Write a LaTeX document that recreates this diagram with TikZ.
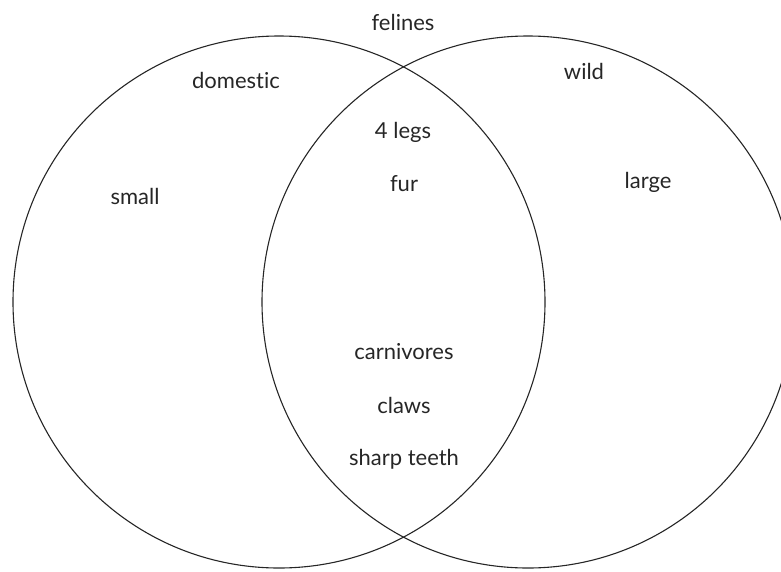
\documentclass[tikz,border=0pt]{standalone}
\usepackage{fontspec}
\setmainfont[Ligatures={NoCommon,NoRare}]{Lato}
\begin{document}
\begin{tikzpicture}[x=1pt,y=-1pt,
  set/.style={draw=black!85, line width=1.1pt},
  lbl/.style={font=\fontsize{22}{26}\selectfont, text=black!85, inner sep=0pt}]
\useasboundingbox (0,0) rectangle (781,571);
\begin{scope}
\clip (0,0) rectangle (781,571);
\draw[set] (279,302) circle[radius=266];
\draw[set] (528,302) circle[radius=266];
\end{scope}
\node[lbl] (felines) at (403,22) {felines};
\node[lbl] (domestic) at (236,80) {domestic};
\node[lbl] (small) at (135,196) {small};
\node[lbl] (wild) at (584,71) {wild};
\node[lbl] (large) at (648,182) {large};
\node[lbl] (legs) at (403,132) {4 legs};
\node[lbl] (fur) at (404,184) {fur};
\node[lbl] (carn) at (404,352) {carnivores};
\node[lbl] (claws) at (404,405) {claws};
\node[lbl] (teeth) at (404,459) {sharp teeth};
\end{tikzpicture}
\end{document}
